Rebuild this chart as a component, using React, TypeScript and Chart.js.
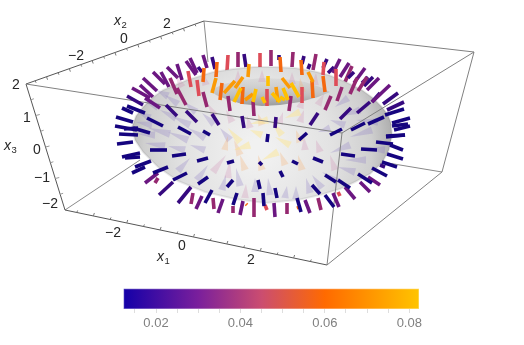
import React, { useEffect, useRef } from "react";
import { Chart, registerables } from "chart.js";

Chart.register(...registerables);

const W = 524;
const H = 345;

// Picture-plane coordinates of the projected 3D box
const backEdges = [
  [204, 21, 208, 62],
  [65, 210, 140, 160],
  [442, 172, 382, 162],
];
const darkEdges = [
  [26, 84, 204, 21],
  [26, 84, 65, 210],
  [65, 210, 327, 265],
];
const lightEdges = [
  [204, 21, 474, 52],
  [474, 52, 442, 172],
  [442, 172, 327, 265],
  [26, 84, 342, 133],
  [342, 133, 474, 52],
  [342, 133, 327, 265],
];

const x1Ticks = [-3.5, -3, -2.5, -2, -1.5, -1, -0.5, 0, 0.5, 1, 1.5, 2, 2.5, 3, 3.5];
const x2Ticks = [-3.5, -3, -2.5, -2, -1.5, -1, -0.5, 0, 0.5, 1, 1.5, 2, 2.5, 3, 3.5];
const x3Ticks = [-1.5, -1, -0.5, 0, 0.5, 1, 1.5];

const torusOutline = [
  [132, 127], [136, 116], [143, 107], [152, 98], [163, 90], [175, 85], [187, 80], [200, 76], [213, 72],
  [233, 69], [253, 67], [275, 67], [295, 68], [313, 71], [329, 75], [346, 82], [362, 90], [373, 98], [382, 107],
  [388, 115], [391, 123], [392, 135], [389, 150], [382, 163], [370, 174], [355, 182], [340, 189], [320, 195],
  [298, 200], [265, 203], [235, 199], [205, 192], [178, 181], [158, 167], [143, 152], [135, 140],
];
const holeOutline = [
  [210, 90], [224, 84], [242, 80], [262, 78], [285, 79], [305, 82], [320, 87], [330, 92], [318, 97], [300, 102],
  [280, 105], [262, 106], [242, 104], [226, 99], [216, 95],
];

// faint arrows lying on the surface: tail x, tail y, head x, head y
const lilacArrows = [
  [176, 118, 160, 110], [190, 125, 172, 116], [205, 138, 188, 128], [188, 140, 168, 132], [170, 134, 148, 128],
  [165, 146, 145, 143], [185, 150, 168, 146], [205, 150, 190, 145], [158, 107, 143, 100], [178, 104, 165, 95],
  [196, 112, 184, 102], [214, 124, 202, 113], [230, 140, 220, 128], [240, 186, 236, 168], [222, 190, 226, 175],
  [197, 180, 208, 165], [178, 171, 190, 158], [255, 192, 255, 178], [270, 195, 268, 178], [285, 198, 287, 186],
  [296, 199, 296, 186], [350, 145, 330, 153], [372, 130, 350, 137], [385, 150, 362, 148], [378, 122, 356, 120],
  [360, 110, 342, 116], [348, 98, 335, 107], [366, 160, 345, 160], [355, 172, 338, 167], [338, 182, 322, 172],
  [322, 188, 312, 175], [310, 193, 306, 178], [330, 128, 318, 132], [345, 125, 330, 120], [152, 125, 136, 122],
  [155, 135, 138, 134], [150, 118, 138, 112], [168, 96, 156, 90],
];
const pinkArrows = [
  [215, 116, 208, 104], [232, 122, 226, 110], [250, 128, 247, 116], [280, 124, 283, 112], [300, 122, 304, 110],
  [318, 105, 324, 94], [300, 108, 304, 96], [213, 172, 226, 155], [228, 178, 230, 160], [245, 198, 246, 184],
  [320, 152, 316, 140], [305, 150, 304, 137], [335, 170, 330, 155], [182, 87, 176, 76], [206, 85, 202, 72],
  [238, 82, 238, 70], [262, 82, 262, 70], [292, 84, 292, 72], [315, 85, 316, 73],
];
const peachArrows = [
  [262, 125, 258, 114], [240, 155, 234, 140], [225, 150, 228, 136], [262, 170, 258, 155], [300, 142, 296, 130],
  [245, 170, 240, 155], [285, 165, 280, 152], [302, 170, 298, 155], [240, 94, 236, 82], [302, 92, 300, 78],
];
const yellowArrows = [
  [268, 120, 250, 124], [290, 145, 275, 137], [278, 152, 262, 160], [250, 145, 234, 150], [262, 135, 250, 130],
  [240, 142, 228, 128], [300, 112, 285, 118], [282, 135, 272, 122],
];

// Sticks: x0, y0, x1, y1, grouped by colour level
const plumSticks = [
  [161, 72, 169, 87], [177, 64, 182, 80], [186, 61, 196, 75], [190, 58, 197, 73], [203, 55, 207, 68],
  [153, 72, 165, 84], [167, 67, 178, 78], [143, 78, 157, 91], [140, 85, 153, 97], [132, 88, 150, 98],
  [145, 98, 160, 108], [340, 59, 333, 73], [349, 63, 340, 77], [365, 68, 354, 83], [379, 78, 367, 90],
  [390, 85, 372, 102], [345, 187, 355, 199], [333, 193, 339, 207], [305, 200, 310, 213], [274, 203, 275, 217],
  [202, 196, 196, 209], [223, 199, 218, 213], [243, 201, 240, 215], [368, 177, 380, 185], [360, 182, 370, 192],
  [158, 173, 145, 183],
];
const indigoSticks = [
  [212, 57, 215, 69], [198, 67, 202, 72], [244, 54, 246, 67], [279, 55, 279, 60], [304, 56, 302, 64],
  [310, 64, 308, 69], [327, 59, 323, 68], [334, 67, 328, 73], [354, 72, 348, 78], [373, 77, 364, 86],
  [368, 77, 362, 83], [380, 93, 372, 102], [398, 93, 383, 104], [127, 96, 143, 105], [166, 105, 177, 116],
  [186, 111, 197, 122], [212, 114, 219, 125], [242, 116, 244, 128], [276, 117, 275, 128], [370, 102, 357, 113],
  [351, 108, 340, 119], [318, 113, 310, 125], [404, 102, 387, 110], [173, 182, 159, 195], [191, 187, 178, 203],
  [380, 165, 385, 167],
];
const magentaSticks = [
  [170, 78, 177, 94], [177, 88, 186, 105], [203, 92, 207, 107], [228, 96, 230, 111], [253, 101, 254, 116],
  [238, 52, 238, 67], [271, 50, 271, 66], [293, 52, 292, 67], [316, 54, 313, 70], [352, 66, 345, 82],
  [357, 78, 350, 94], [367, 77, 358, 91], [342, 87, 337, 101], [331, 96, 325, 110], [291, 96, 289, 111],
  [193, 193, 191, 204], [213, 198, 214, 209], [233, 206, 233, 213], [254, 198, 254, 217], [287, 203, 287, 214],
  [318, 198, 321, 210], [158, 178, 155, 183],
];
const redSticks = [
  [228, 55, 227, 71], [260, 53, 260, 69], [188, 71, 191, 87], [197, 80, 199, 96], [267, 89, 267, 106],
  [302, 87, 302, 103], [336, 69, 336, 86], [324, 62, 323, 75], [338, 192, 340, 196], [265, 205, 267, 210],
];
const orangeSticks = [
  [217, 62, 216, 77], [204, 68, 203, 82], [222, 83, 220, 100], [243, 87, 242, 104], [280, 57, 281, 72],
  [301, 60, 302, 75], [312, 81, 313, 98], [323, 76, 325, 92], [246, 204, 247, 205], [298, 206, 299, 209],
];
const amberSticks = [
  [216, 78, 212, 93], [235, 81, 224, 93], [243, 77, 235, 88], [249, 64, 248, 77], [253, 94, 245, 100],
  [308, 72, 313, 82], [282, 78, 290, 88], [276, 87, 278, 102],
];
const yellowSticks = [
  [241, 88, 234, 102], [256, 89, 253, 102], [268, 76, 268, 86], [291, 83, 299, 97], [283, 88, 288, 100],
  [272, 93, 280, 102], [280, 97, 285, 100], [262, 97, 265, 103],
];
const navySticks = [
  [122, 108, 133, 113], [127, 106, 145, 113], [116, 117, 133, 122], [115, 126, 137, 130], [124, 129, 138, 128],
  [119, 134, 138, 135], [117, 144, 133, 142], [133, 128, 150, 133], [147, 118, 163, 126], [178, 127, 191, 134],
  [203, 131, 210, 135], [122, 157, 140, 153], [125, 158, 140, 157], [150, 150, 167, 150], [172, 156, 186, 154],
  [197, 161, 208, 158], [227, 163, 234, 161], [259, 162, 262, 165], [258, 180, 260, 189], [233, 180, 227, 187],
  [208, 177, 198, 184], [187, 173, 173, 180], [168, 167, 153, 173], [151, 161, 135, 167], [145, 167, 132, 173],
  [212, 190, 205, 203], [237, 193, 233, 205], [263, 193, 264, 206], [275, 188, 277, 198], [280, 171, 283, 177],
  [292, 161, 298, 164], [313, 158, 323, 162], [341, 154, 355, 156], [361, 149, 377, 150], [376, 142, 393, 144],
  [386, 136, 405, 135], [390, 145, 403, 150], [387, 154, 403, 159], [382, 162, 397, 167], [372, 168, 387, 176],
  [358, 174, 372, 183], [338, 180, 350, 188], [325, 175, 336, 182], [312, 185, 320, 194], [325, 195, 334, 207],
  [297, 198, 301, 212], [404, 109, 385, 115], [410, 118, 392, 123], [408, 124, 392, 126], [410, 126, 394, 130],
  [405, 135, 386, 137], [384, 117, 368, 124], [365, 123, 351, 130], [342, 129, 330, 135], [307, 133, 299, 140],
  [268, 134, 267, 142],
];

const tickLabels = [
  ["2", 16, 85], ["1", 27, 118], ["0", 37, 150], ["\u22121", 42, 178], ["\u22122", 50, 204],
  ["\u22122", 113, 233], ["0", 182, 246], ["2", 251, 260],
  ["\u22122", 76, 56], ["0", 124, 39], ["2", 167, 24],
];
const axisNames = [
  ["x", "3", 4, 146],
  ["x", "1", 157, 257],
  ["x", "2", 114, 21],
];

// Colour bar
const barMin = 0.0123;
const barMax = 0.0823;
const barTicks = [0.015, 0.02, 0.025, 0.03, 0.035, 0.04, 0.045, 0.05, 0.055, 0.06, 0.065, 0.07, 0.075, 0.08];
const barLabelled = [0.02, 0.04, 0.06, 0.08];
const barStops: [number, string][] = [
  [0.0123, "#1400a8"],
  [0.03, "#7a1f9c"],
  [0.045, "#cb4d70"],
  [0.06, "#ff6a00"],
  [0.0823, "#ffc400"],
];

function seg(s: number[]) {
  return [{ x: s[0], y: s[1] }, { x: s[2], y: s[3] }];
}
function lineSet(s: number[], color: string, width: number, cap = "butt") {
  return {
    data: seg(s),
    showLine: true,
    borderColor: color,
    borderWidth: width,
    borderCapStyle: cap,
    pointRadius: 0,
    tension: 0,
  };
}
function shapeSet(points: number[][], fillStyle: any, stroke = "rgba(0,0,0,0)", width = 0) {
  return {
    data: points.concat([points[0]]).map((p) => ({ x: p[0], y: p[1] })),
    showLine: true,
    fill: "shape",
    backgroundColor: fillStyle,
    borderColor: stroke,
    borderWidth: width,
    pointRadius: 0,
    tension: 0,
  };
}
function wedge(a: number[]) {
  const dx = a[2] - a[0];
  const dy = a[3] - a[1];
  const l = Math.hypot(dx, dy) || 1;
  const nx = (-dy / l) * 3.8;
  const ny = (dx / l) * 3.8;
  return [[a[0] + nx, a[1] + ny], [a[2], a[3]], [a[0] - nx, a[1] - ny]];
}
function along(a: number[], b: number[], t: number) {
  return [a[0] + (b[0] - a[0]) * t, a[1] + (b[1] - a[1]) * t];
}

export default function App() {
  const mainRef = useRef<HTMLCanvasElement>(null);
  const barRef = useRef<HTMLCanvasElement>(null);

  useEffect(() => {
    const ctx = mainRef.current!.getContext("2d")!;

    const body = ctx.createRadialGradient(258, 150, 10, 258, 150, 140);
    body.addColorStop(0, "#f1f1f1");
    body.addColorStop(0.5, "#e2e2e2");
    body.addColorStop(0.8, "#cfcfcf");
    body.addColorStop(1, "#a8a8a8");
    const wall = ctx.createLinearGradient(0, 78, 0, 106);
    wall.addColorStop(0, "rgba(205,205,205,0.4)");
    wall.addColorStop(0.6, "#c0c0c0");
    wall.addColorStop(1, "#9c9c9c");

    const tickSets: any[] = [];
    x1Ticks.forEach((v) => {
      const p = along([65, 210], [327, 265], (v + 3.85) / 7.85);
      tickSets.push(lineSet([p[0], p[1], p[0] + 1, p[1] - (v % 1 === 0 ? 3 : 2)], "#777", 1));
    });
    x2Ticks.forEach((v) => {
      const p = along([26, 84], [204, 21], (v + 3.9) / 7.8);
      tickSets.push(lineSet([p[0], p[1], p[0] + 1, p[1] + (v % 1 === 0 ? 3 : 2)], "#777", 1));
    });
    x3Ticks.forEach((v) => {
      const p = along([65, 210], [26, 84], (v + 2) / 4);
      tickSets.push(lineSet([p[0], p[1], p[0] + (v % 1 === 0 ? 4 : 3), p[1] - 1], "#999", 1));
    });

    const stickSets = (list: number[][], color: string) => list.map((s) => lineSet(s, color, 3.6));

    // back to front; reversed below because Chart.js paints the first dataset last
    const layers: any[] = [
      ...backEdges.map((s) => lineSet(s, "#8a8a8a", 1)),
      ...stickSets(plumSticks.filter((s) => s[1] < 90 && s[0] < 200), "#6b1781"),
      ...stickSets(magentaSticks.filter((s) => s[1] < 70), "#952870"),
      ...stickSets(redSticks.filter((s) => s[1] < 58), "#de4c58"),
      shapeSet(torusOutline, body, "rgba(90,90,90,0.12)", 2),
      shapeSet(holeOutline, wall),
      ...lilacArrows.map((a) => shapeSet(wedge(a), "rgba(135,120,195,0.27)")),
      ...pinkArrows.map((a) => shapeSet(wedge(a), "rgba(205,125,170,0.24)")),
      ...peachArrows.map((a) => shapeSet(wedge(a), "rgba(248,170,100,0.27)")),
      ...yellowArrows.map((a) => shapeSet(wedge(a), "rgba(255,228,130,0.42)")),
      ...darkEdges.map((s) => lineSet(s, "#555555", 1)),
      ...tickSets,
      ...lightEdges.map((s) => lineSet(s, "#808080", 1)),
      ...stickSets(indigoSticks, "#36097f"),
      ...stickSets(plumSticks.filter((s) => !(s[1] < 90 && s[0] < 200)), "#6b1781"),
      ...stickSets(magentaSticks.filter((s) => !(s[1] < 70)), "#952870"),
      ...stickSets(redSticks.filter((s) => !(s[1] < 58)), "#de4c58"),
      ...stickSets(orangeSticks, "#f4680f"),
      ...stickSets(amberSticks, "#fb9a05"),
      ...stickSets(yellowSticks, "#ffc000"),
      ...stickSets(navySticks, "#15047f"),
    ];

    const labelPlugin = {
      id: "boxLabels",
      afterDatasetsDraw(chart: any) {
        const c = chart.ctx;
        const sx = chart.scales.x;
        const sy = chart.scales.y;
        c.save();
        c.fillStyle = "#262626";
        c.textAlign = "center";
        c.textBaseline = "middle";
        c.font = '14px "Liberation Sans"';
        tickLabels.forEach((t) => {
          c.fillText(t[0], sx.getPixelForValue(t[1]), sy.getPixelForValue(t[2]));
        });
        axisNames.forEach((t) => {
          const px = sx.getPixelForValue(t[2]);
          const py = sy.getPixelForValue(t[3]);
          c.textAlign = "left";
          c.font = 'italic 14px "Liberation Sans"';
          c.fillText(t[0], px, py);
          c.font = '9.5px "Liberation Sans"';
          c.fillText(t[1], px + 7.5, py + 4);
        });
        c.restore();
      },
    };

    const main = new Chart(mainRef.current!, {
      type: "scatter",
      data: { datasets: layers.reverse() },
      options: {
        animation: false,
        responsive: false,
        layout: { padding: 0 },
        plugins: { legend: { display: false }, tooltip: { enabled: false } },
        scales: {
          x: { type: "linear", min: 0, max: W, display: false },
          y: { type: "linear", min: 0, max: H, reverse: true, display: false },
        },
      },
      plugins: [labelPlugin],
    } as any);

    const colorBar = new Chart(barRef.current!, {
      type: "bar",
      data: {
        labels: ["value"],
        datasets: [
          {
            data: [[barMin, barMax]],
            barPercentage: 1,
            categoryPercentage: 1,
            borderWidth: 1,
            borderSkipped: false,
            backgroundColor: (c: any) => {
              const a = c.chart.chartArea;
              const sx = c.chart.scales.x;
              if (!a || !sx) return "#888";
              const g = c.chart.ctx.createLinearGradient(a.left, 0, a.right, 0);
              barStops.forEach((s) => g.addColorStop((sx.getPixelForValue(s[0]) - a.left) / (a.right - a.left), s[1]));
              return g;
            },
            borderColor: (c: any) => {
              const a = c.chart.chartArea;
              const sx = c.chart.scales.x;
              if (!a || !sx) return "#888";
              const g = c.chart.ctx.createLinearGradient(a.left, 0, a.right, 0);
              barStops.forEach((s) =>
                g.addColorStop((sx.getPixelForValue(s[0]) - a.left) / (a.right - a.left), s[1] + "99")
              );
              return g;
            },
          },
        ],
      },
      options: {
        indexAxis: "y",
        animation: false,
        responsive: false,
        layout: { padding: { left: 123.5, right: 105, top: 288.5, bottom: 0 } },
        plugins: { legend: { display: false }, tooltip: { enabled: false } },
        scales: {
          y: { display: false },
          x: {
            type: "linear",
            min: barMin,
            max: barMax,
            border: { display: false },
            grid: { drawOnChartArea: false, drawTicks: true, tickLength: 4, color: "#dedede" },
            afterBuildTicks: (s: any) => {
              s.ticks = barTicks.map((value) => ({ value }));
            },
            afterFit: (s: any) => {
              s.height = 36;
            },
            ticks: {
              autoSkip: false,
              maxRotation: 0,
              padding: 3,
              color: "#808080",
              font: { family: '"Liberation Sans"', size: 13 },
              callback: (v: any) => {
                const hit = barLabelled.find((b) => Math.abs(b - Number(v)) < 1e-6);
                return hit === undefined ? "" : hit.toFixed(2);
              },
            },
          },
        },
      },
    } as any);

    return () => {
      main.destroy();
      colorBar.destroy();
    };
  }, []);

  const full: React.CSSProperties = { position: "absolute", left: 0, top: 0, width: W, height: H };
  return (
    <div style={{ position: "fixed", left: 0, top: 0, width: W, height: H, overflow: "hidden", background: "#fff" }}>
      <canvas ref={mainRef} width={W} height={H} style={full} />
      <canvas ref={barRef} width={W} height={H} style={full} />
    </div>
  );
}
